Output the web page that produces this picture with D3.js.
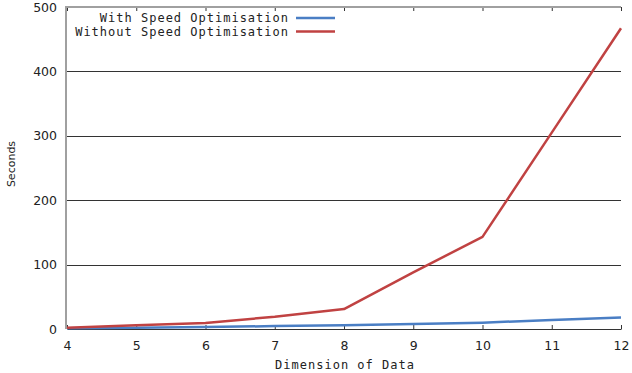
<!DOCTYPE html>
<meta charset="utf-8">
<style>
    body { margin: 0; background: #fff; }
    .mono { font-family: "DejaVu Sans Mono", monospace; font-size: 12px; letter-spacing: 1px; fill: #222; }
    .tick text { font-family: "DejaVu Sans", sans-serif; font-size: 12.5px; fill: #222; }
</style>
<svg width="632" height="373"></svg>
<script src="https://d3js.org/d3.v7.min.js"></script>
<script>
    var dims = [4, 5, 6, 7, 8, 9, 10, 11, 12];
    var withOpt = [1, 2, 3, 4.5, 5.7, 7.8, 9.8, 14, 18];
    var withoutOpt = [2, 5.7, 9.5, 19, 31, 88, 143, 305, 467];
    var yTicks = [0, 100, 200, 300, 400, 500];
    var seriesNames = ["With Speed Optimisation", "Without Speed Optimisation"];
    var colors = ["#4a7ec4", "#c04242"];

    var svg = d3.select("svg");
    var plotLeft = 67, plotRight = 621, plotTop = 7, plotBottom = 329;

    var x = d3.scaleLinear().domain([4, 12]).range([plotLeft, plotRight]);
    var y = d3.scaleLinear().domain([0, 500]).range([plotBottom, plotTop]);

    // horizontal grid
    svg.append("g").selectAll("line")
        .data(yTicks.slice(1, -1))
        .enter().append("line")
        .attr("x1", plotLeft).attr("x2", plotRight)
        .attr("y1", function(d) { return Math.round(y(d)) + 0.5; })
        .attr("y2", function(d) { return Math.round(y(d)) + 0.5; })
        .attr("stroke", "#333").attr("stroke-width", 1);

    // bottom axis
    var xAxis = svg.append("g")
        .attr("transform", "translate(0," + plotBottom + ")")
        .call(d3.axisBottom(x).tickValues(dims).tickSizeInner(-4).tickSizeOuter(0).tickPadding(12).tickFormat(d3.format("d")));
    xAxis.select(".domain").attr("stroke", "#333");
    xAxis.selectAll(".tick line").attr("stroke", "#333");

    // top ticks
    var xTop = svg.append("g")
        .attr("transform", "translate(0," + plotTop + ")")
        .call(d3.axisTop(x).tickValues(dims).tickSize(-4).tickFormat(""));
    xTop.select(".domain").remove();
    xTop.selectAll(".tick line").attr("stroke", "#333");

    // top border
    svg.append("line")
        .attr("x1", plotLeft).attr("x2", plotRight).attr("y1", plotTop).attr("y2", plotTop)
        .attr("stroke", "#a0a0a0").attr("stroke-width", 2);

    // left axis
    var yAxis = svg.append("g")
        .attr("transform", "translate(" + plotLeft + ",0)")
        .call(d3.axisLeft(y).tickValues(yTicks).tickSize(0).tickPadding(10));
    yAxis.select(".domain").remove();
    svg.append("line")
        .attr("x1", plotLeft - 1).attr("x2", plotLeft - 1).attr("y1", plotTop - 1).attr("y2", plotBottom)
        .attr("stroke", "#a0a0a0").attr("stroke-width", 2);

    var line = d3.line()
        .x(function(d, i) { return x(dims[i]); })
        .y(function(d) { return y(d); });

    [withOpt, withoutOpt].forEach(function(s, i) {
        svg.append("path")
            .attr("d", line(s))
            .attr("fill", "none")
            .attr("stroke", colors[i])
            .attr("stroke-width", 2.5)
            .attr("stroke-linejoin", "round");
    });

    // legend
    seriesNames.forEach(function(name, i) {
        var ly = 18 + i * 13.5;
        svg.append("text").attr("class", "mono")
            .attr("x", 289).attr("y", ly).attr("dy", "0.35em")
            .attr("text-anchor", "end").text(name);
        svg.append("line")
            .attr("x1", 296).attr("x2", 335).attr("y1", ly).attr("y2", ly)
            .attr("stroke", colors[i]).attr("stroke-width", 2.5);
    });

    // axis titles
    svg.append("text").attr("class", "mono")
        .attr("x", (plotLeft + plotRight) / 2 + 1).attr("y", 369)
        .attr("text-anchor", "middle").text("Dimension of Data");
    svg.append("text")
        .attr("transform", "translate(15,164) rotate(-90)")
        .attr("text-anchor", "middle")
        .style("font-family", "DejaVu Sans, sans-serif").style("font-size", "11px").style("fill", "#222")
        .text("Seconds");
</script>
